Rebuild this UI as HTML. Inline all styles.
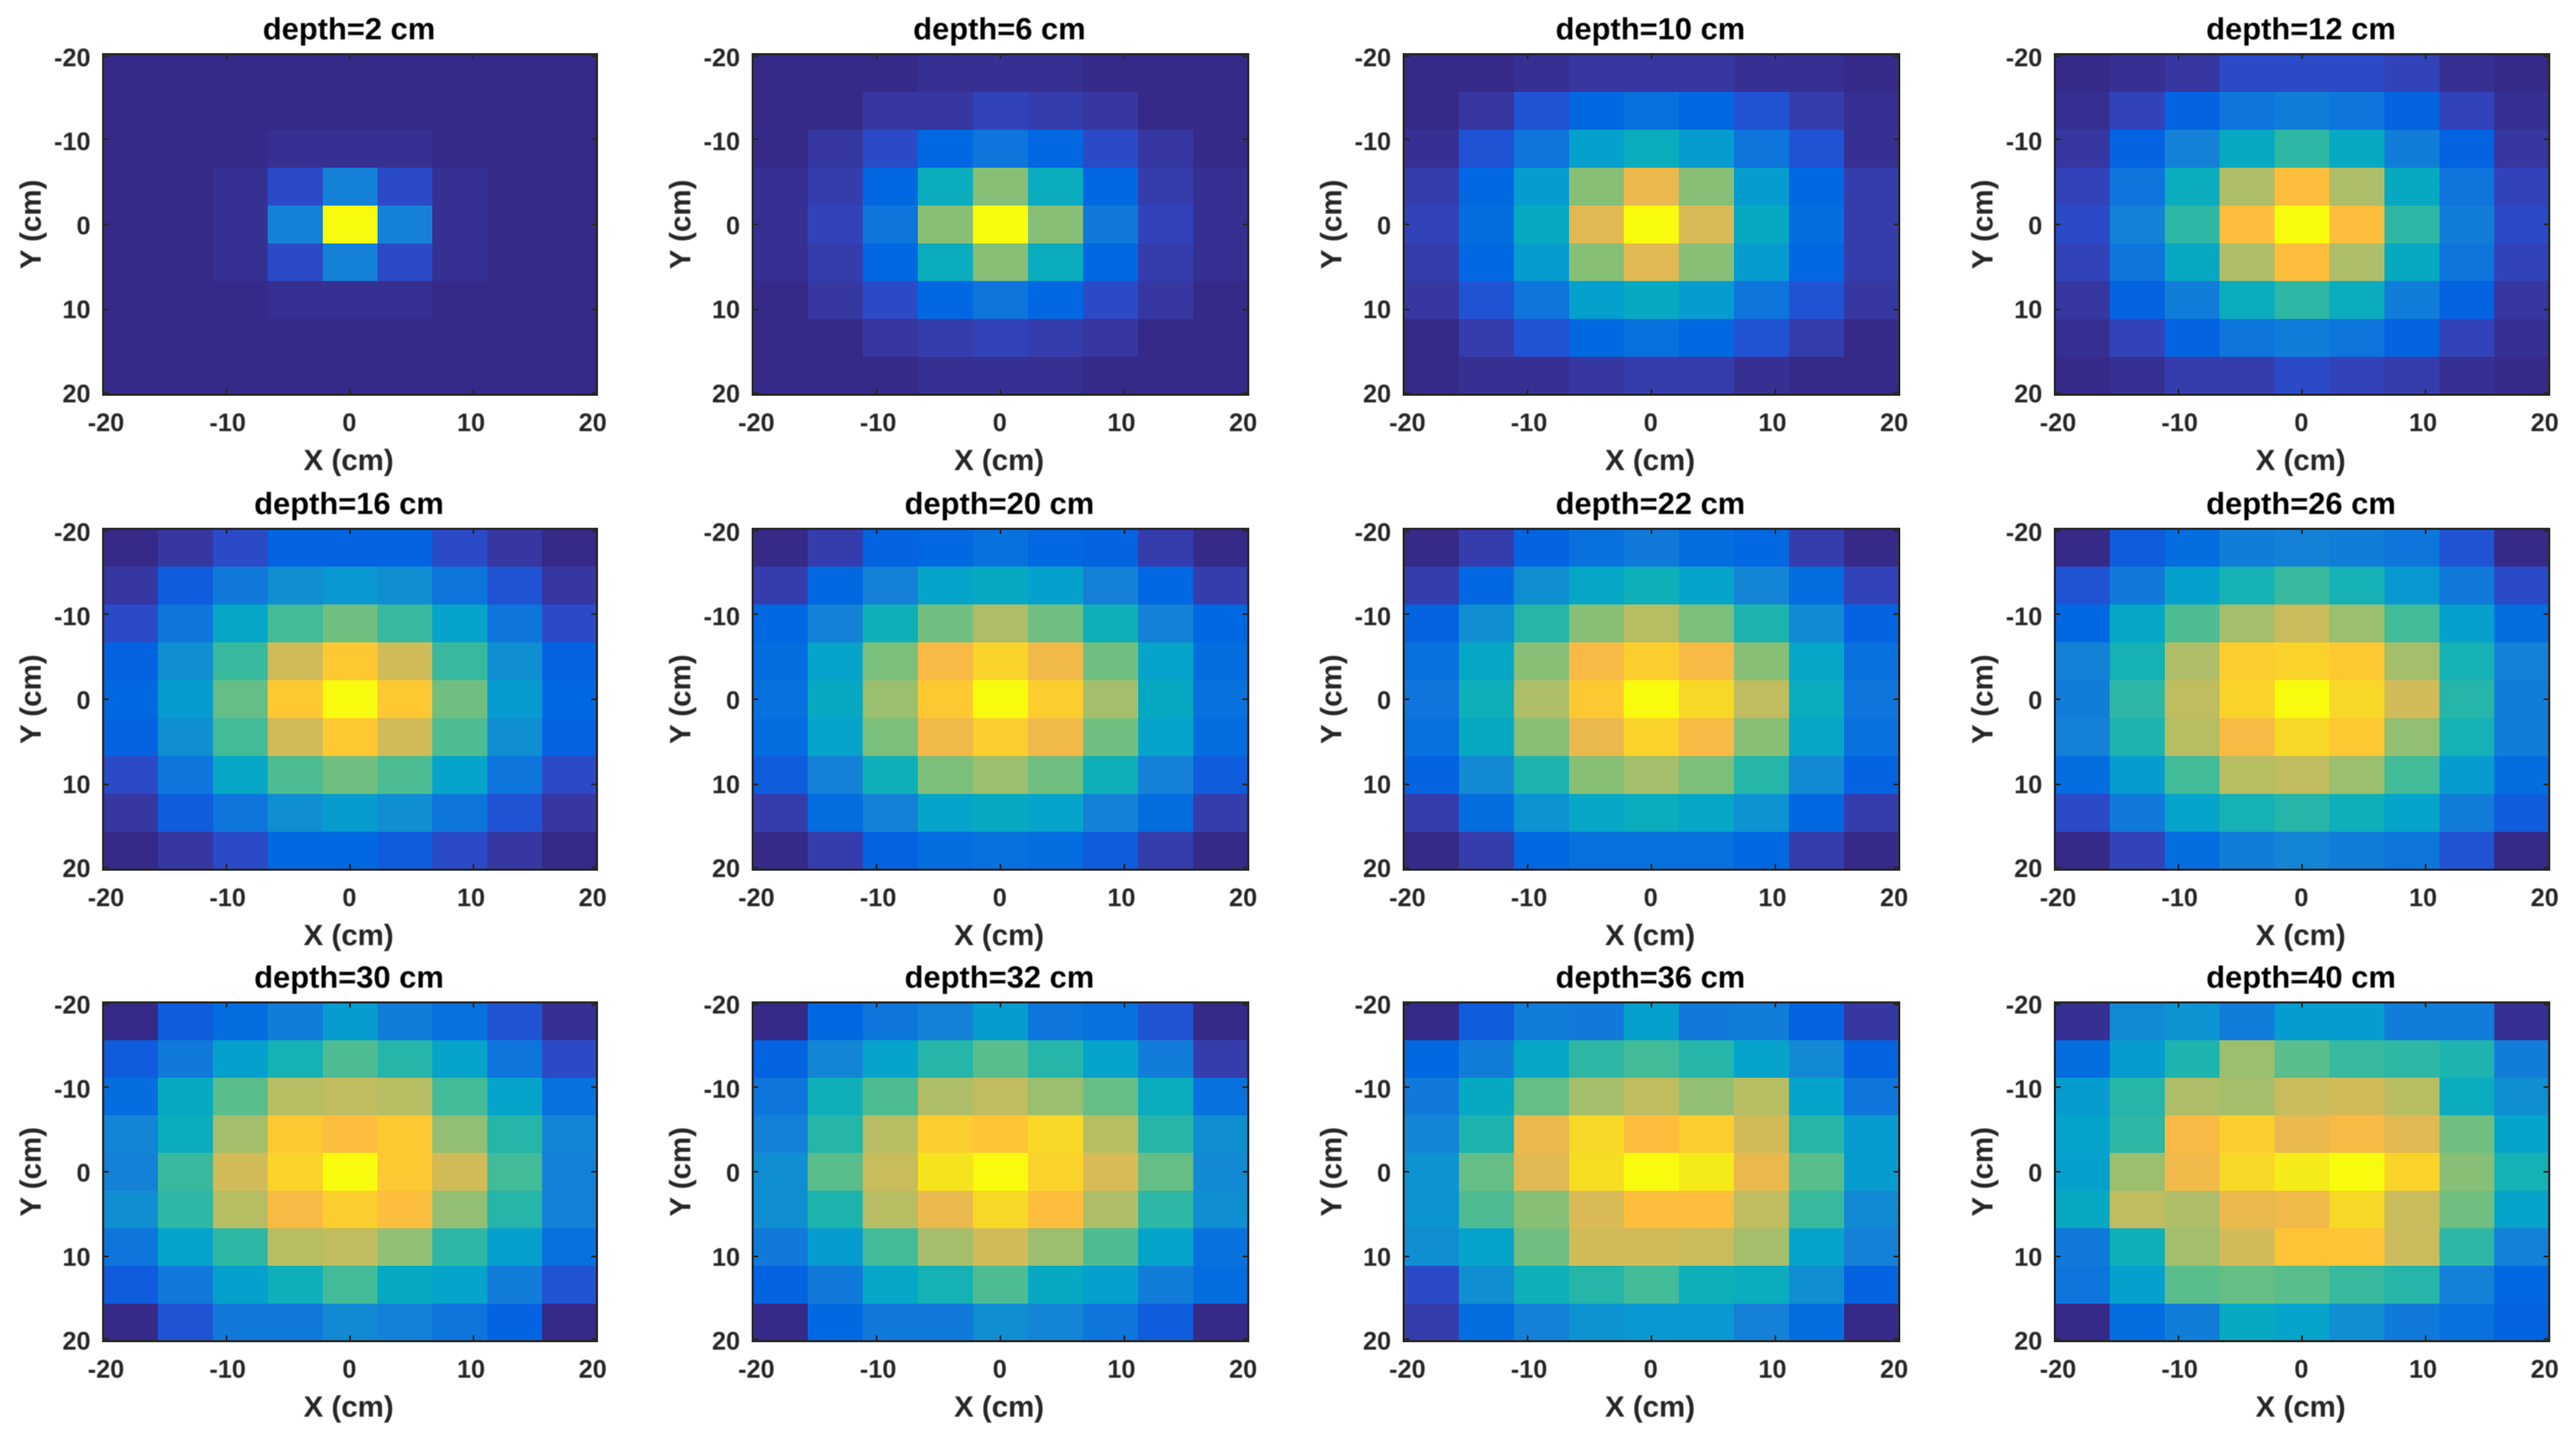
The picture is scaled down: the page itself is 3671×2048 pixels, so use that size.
<!DOCTYPE html>
<html lang="en">
<head>
<meta charset="utf-8">
<title>Dose profiles by depth</title>
<style>
html,body{margin:0;padding:0;background:#fff;width:3671px;height:2048px;overflow:hidden}
svg{display:block}
text{font-family:"Liberation Sans",Arial,sans-serif;font-weight:bold;filter:blur(.9px)}
.title{font-size:44px;fill:#000;text-anchor:middle}
.label{font-size:42px;fill:#262626;text-anchor:middle}
.tick{font-size:36px;fill:#262626}
</style>
</head>
<body>
<svg id="figure" xmlns="http://www.w3.org/2000/svg" width="3671" height="2048" viewBox="0 0 3671 2048"></svg>
<script>
// Panel titles and axis tick labels
const panelTitles = ['depth=2 cm','depth=6 cm','depth=10 cm','depth=12 cm','depth=16 cm','depth=20 cm','depth=22 cm','depth=26 cm','depth=30 cm','depth=32 cm','depth=36 cm','depth=40 cm'];
const xTicks = [-20,-10,0,10,20];
const yTicks = [-20,-10,0,10,20];
const xAxisTitle = 'X (cm)';
const yAxisTitle = 'Y (cm)';
const doseMax = 63;

// Relative dose values read per cell (rows top to bottom, 9x9)
const dose2 = [
[0,0,0,0,0,0,0,0,0],
[0,0,0,0,0,0,0,0,0],
[0,0,0,1,1,1,0,0,0],
[0,0,1,5,15,5,1,0,0],
[0,0,1,15,63,15,1,0,0],
[0,0,1,5,15,5,1,0,0],
[0,0,0,1,1,1,0,0,0],
[0,0,0,0,0,0,0,0,0],
[0,0,0,0,0,0,0,0,0]];
const dose6 = [
[0,0,0,1,1,1,0,0,0],
[0,0,2,2,4,3,2,0,0],
[0,2,5,9,12,9,5,2,0],
[1,3,9,26,39,26,9,3,1],
[1,4,12,39,63,39,13,4,1],
[1,3,9,26,39,26,9,3,1],
[0,2,5,9,12,9,5,2,0],
[0,0,2,3,4,3,2,0,0],
[0,0,0,1,1,1,0,0,0]];
const dose10 = [
[0,0,1,2,2,2,1,1,0],
[0,2,6,9,11,9,6,3,1],
[1,6,12,22,26,21,12,6,1],
[3,9,21,39,50,39,21,9,3],
[4,10,25,49,63,48,25,10,3],
[3,9,21,39,49,39,21,9,3],
[2,6,12,22,25,21,12,6,2],
[0,3,6,9,11,9,6,3,0],
[0,1,1,2,3,3,1,0,0]];
const dose12 = [
[0,1,2,5,5,5,4,1,0],
[1,4,8,12,14,12,8,4,1],
[2,8,15,25,31,25,14,8,2],
[4,12,26,43,53,43,25,12,4],
[5,15,31,53,63,53,31,14,5],
[4,12,25,43,53,43,25,12,4],
[2,8,14,26,31,26,14,8,2],
[1,4,8,12,14,12,8,4,1],
[0,1,3,3,5,4,3,1,0]];
const dose16 = [
[0,2,5,8,8,8,5,2,0],
[2,7,13,18,20,18,12,6,2],
[5,12,24,33,37,32,23,12,5],
[8,18,32,47,55,47,32,18,8],
[9,21,36,55,63,55,37,21,9],
[8,18,33,47,55,47,34,18,8],
[5,12,24,34,37,34,23,12,5],
[2,7,12,18,21,18,12,6,2],
[0,2,5,9,9,7,5,2,0]];
const dose20 = [
[0,3,8,9,11,9,8,3,0],
[3,9,15,23,25,22,15,9,3],
[9,15,27,37,43,37,27,15,9],
[10,23,38,52,57,51,37,23,10],
[11,25,41,55,63,56,42,25,11],
[10,23,38,51,56,51,37,23,10],
[7,15,27,38,41,37,27,15,7],
[3,10,15,23,25,23,15,10,3],
[0,3,8,10,11,10,7,3,0]];
const dose22 = [
[0,3,8,11,13,10,9,3,0],
[3,9,18,24,27,23,16,10,4],
[8,18,30,39,44,38,29,17,8],
[11,24,39,52,56,52,39,24,11],
[12,27,43,55,63,58,45,26,12],
[11,25,39,50,57,52,39,24,11],
[8,17,29,39,42,38,30,17,8],
[3,10,19,24,26,24,19,9,3],
[0,3,9,11,11,11,9,3,0]];
const dose26 = [
[0,7,10,14,15,14,12,6,0],
[6,13,22,28,32,28,20,13,5],
[9,24,34,42,46,41,33,22,10],
[15,28,43,56,57,55,42,28,15],
[14,31,45,57,63,58,47,30,14],
[15,29,44,52,58,55,40,28,14],
[10,21,33,44,45,41,33,21,10],
[5,13,23,28,30,27,23,14,7],
[0,4,10,14,16,14,12,6,0]];
const dose30 = [
[0,7,10,14,21,14,11,6,1],
[7,13,22,28,34,30,23,12,5],
[10,25,35,44,45,44,33,23,11],
[16,26,42,55,53,55,40,30,16],
[15,32,47,57,63,55,47,33,15],
[18,31,44,52,56,53,40,30,15],
[12,23,31,44,45,40,31,22,11],
[7,13,22,27,33,25,23,14,6],
[0,6,13,13,17,15,12,8,0]];
const dose32 = [
[0,9,12,15,21,12,11,6,0],
[8,16,23,30,35,30,23,14,3],
[12,27,34,43,45,41,36,26,11],
[15,30,44,56,54,58,44,30,18],
[18,35,46,60,63,57,48,36,17],
[18,29,44,50,58,53,43,31,18],
[13,21,33,42,47,41,34,23,11],
[8,13,24,28,34,25,22,14,10],
[0,9,13,13,18,16,12,7,0]];
const dose36 = [
[0,7,14,13,22,13,14,8,2],
[9,14,24,31,33,30,23,17,8],
[13,25,36,42,45,40,44,23,12],
[16,29,50,58,53,56,47,30,21],
[19,36,49,59,63,61,50,35,21],
[19,34,39,48,53,53,45,32,17],
[18,23,37,47,47,46,42,23,15],
[5,18,27,30,33,27,26,18,8],
[3,10,15,19,20,20,15,10,0]];
const dose40 = [
[1,17,19,14,21,21,14,14,1],
[10,21,29,41,35,32,31,29,14],
[21,30,43,42,46,47,44,26,18],
[23,31,52,56,50,52,49,37,23],
[22,41,51,58,61,63,57,39,28],
[25,45,43,50,51,58,46,37,23],
[13,27,42,47,54,54,46,31,15],
[12,22,35,36,35,32,30,15,9],
[0,10,14,25,23,18,13,11,8]];
const panelDoses = [dose2,dose6,dose10,dose12,dose16,dose20,dose22,dose26,dose30,dose32,dose36,dose40];

// Colormap (parula, 64 levels)
const parula = ['#352a87','#363093','#3637a0','#353dad','#3243ba','#2b4ac7','#2053d4','#0f5cdd','#0363e1','#0268e1','#046de0','#0871de','#0d75dc','#1079da','#127dd8','#1481d6','#1485d4','#1389d3','#108ed2','#0c93d2','#0998d1','#079ccf','#06a0cd','#06a4ca','#06a7c6','#07a9c2','#0aacbe','#0fafb9','#15b1b4','#1db3af','#25b5a9','#2eb7a4','#38b99e','#42bb98','#4dbc92','#59bd8c','#65be86','#71bf80','#7cbf7b','#87bf77','#92bf73','#9bbe6f','#a5be6b','#aebd67','#b7bd63','#c0bc60','#c8bc5d','#d1bb59','#d9ba56','#e1b952','#e9b94e','#f1b94a','#f8ba44','#fdbe3d','#ffc337','#fec832','#fccd2e','#fad32a','#f7d826','#f5de21','#f5e41d','#f5eb18','#f6f313','#f9fb0e'];

const SVG_NS = 'http://www.w3.org/2000/svg';
const figure = document.getElementById('figure');

function make(tag, attrs, parent) {
  const el = document.createElementNS(SVG_NS, tag);
  for (const k in attrs) el.setAttribute(k, attrs[k]);
  parent.appendChild(el);
  return el;
}
function colorScale(v) {
  const i = Math.max(0, Math.min(63, Math.round(v / doseMax * 63)));
  return parula[i];
}

const colLeft = [147, 1072.7, 2000.4, 2928.4];
const colRight = [850.7, 1778.8, 2706.5, 3632.8];
const rowTop = [77.2, 753.7, 1428.7];
const rowBottom = [562.5, 1239.4, 1911.4];
const inkColor = '#262626';

panelDoses.forEach(function (grid, p) {
  const col = p % 4;
  const row = Math.floor(p / 4);
  const L = colLeft[col], R = colRight[col], T = rowTop[row], B = rowBottom[row];
  const x = function (v) { return L + (v + 20) / 40 * (R - L); };
  const y = function (v) { return T + (v + 20) / 40 * (B - T); };
  const cx = (L + R) / 2, cy = (T + B) / 2;
  const cols = grid[0].length, rows = grid.length;

  const panel = make('g', {}, figure);
  
  

  // Heatmap cells
  grid.forEach(function (cells, r) {
    cells.forEach(function (value, c) {
      const x0 = x(-20 + c * 40 / cols), x1 = x(-20 + (c + 1) * 40 / cols);
      const y0 = y(-20 + r * 40 / rows), y1 = y(-20 + (r + 1) * 40 / rows);
      const cell = make('rect', {x: x0, y: y0, width: x1 - x0, height: y1 - y0, fill: colorScale(value), 'shape-rendering': 'crispEdges'}, panel);
      
      
    });
  });

  // Tick marks
  xTicks.forEach(function (v) {
    if (v === -20 || v === 20) return;
    const a = make('path', {d: 'M' + x(v) + ' ' + B + 'v-8M' + x(v) + ' ' + T + 'v7', stroke: inkColor, 'stroke-width': 2.5, fill: 'none'}, panel);
    
    
  });
  yTicks.forEach(function (v) {
    const yy = v === -20 ? y(v) + 3 : v === 20 ? y(v) - 3 : y(v);
    const a = make('path', {d: 'M' + L + ' ' + yy + 'h8M' + R + ' ' + yy + 'h-8', stroke: inkColor, 'stroke-width': 2.5, fill: 'none'}, panel);
    
    
  });

  // Axes box
  const box = make('rect', {x: L, y: T, width: R - L, height: B - T, fill: 'none', stroke: inkColor, 'stroke-width': 3}, panel);
  
  

  // Title
  const title = make('text', {x: cx - 1.5, y: T - 21, class: 'title'}, panel);
  title.textContent = panelTitles[p];
  
  

  // X tick labels
  xTicks.forEach(function (v) {
    const t = make('text', {x: cx - 1 + v * 17.34, y: B + 52, class: 'tick', 'text-anchor': 'middle'}, panel);
    t.textContent = String(v);
    
    
  });

  // Y tick labels
  yTicks.forEach(function (v) {
    const t = make('text', {x: L - 18, y: cy + 14 + v * 11.98, class: 'tick', 'text-anchor': 'end'}, panel);
    t.textContent = String(v);
    
    
  });

  // Axis titles
  const xt = make('text', {x: cx - 2, y: B + 107.5, class: 'label'}, panel);
  xt.textContent = xAxisTitle;
  
  

  const yt = make('text', {x: 0, y: 0, class: 'label', transform: 'translate(' + (L - 89) + ' ' + cy + ') rotate(-90)'}, panel);
  yt.textContent = yAxisTitle;
  
  
});
</script>
</body>
</html>
